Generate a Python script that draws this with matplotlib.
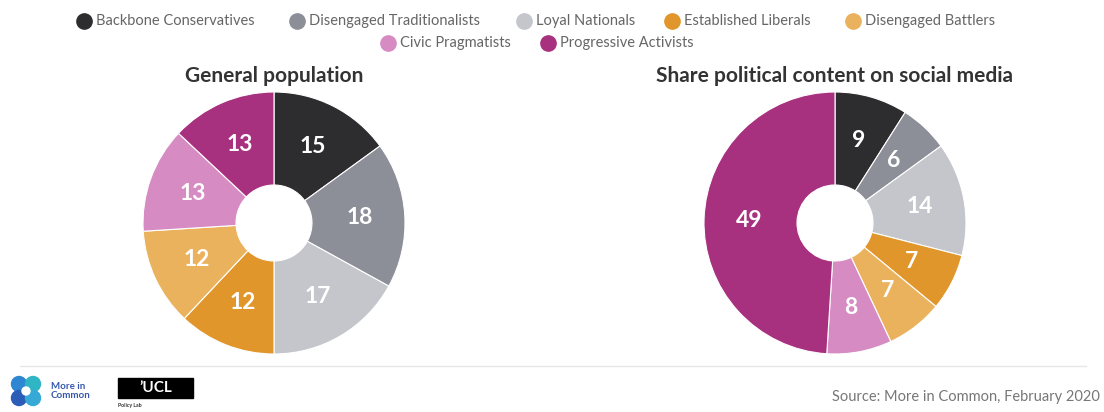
import matplotlib
matplotlib.use("Agg")
import matplotlib.pyplot as plt
import numpy as np
from matplotlib.lines import Line2D
from matplotlib.patches import Rectangle, Ellipse

segments = ["Backbone Conservatives", "Disengaged Traditionalists", "Loyal Nationals",
            "Established Liberals", "Disengaged Battlers", "Civic Pragmatists",
            "Progressive Activists"]
general_population = [15, 18, 17, 12, 12, 13, 13]
share_political = [9, 6, 14, 7, 7, 8, 49]
titles = ["General population", "Share political content on social media"]
colors = ["#2d2d2f", "#8c8e98", "#c4c6cc", "#e0962b", "#ebb25e", "#d68cc3", "#a8317f"]

W, H = 1104, 412
fig = plt.figure(figsize=(W / 100, H / 100), dpi=100)
fig.patch.set_facecolor("white")
FONT = "Lato"

def fx(px):
    return px / W

def fy(py):
    return 1 - py / H

# Legend (manual placement, two rows)
legend_pos = [(84, 21), (297, 21), (524, 21), (672, 21), (853, 21), (388, 43), (548, 43)]
for name, col, (px, py) in zip(segments, colors, legend_pos):
    fig.add_artist(Line2D([fx(px)], [fy(py)], marker="o", markersize=11, color=col,
                          markeredgecolor=col, linestyle="none", transform=fig.transFigure))
    fig.text(fx(px + 12), fy(py), name, fontsize=10.5, color="#666666", family=FONT,
             va="center", ha="left")

# Pies
R = 131
centers = [(274, 223), (835, 223)]
for (cx, cy), vals, title in zip(centers, [general_population, share_political], titles):
    ax = fig.add_axes([fx(cx - R), fy(cy + R), 2 * R / W, 2 * R / H])
    ax.pie(vals, colors=colors, startangle=90, counterclock=False,
           radius=1.0, wedgeprops=dict(width=0.71, edgecolor="white", linewidth=0.8))
    cum = np.cumsum([0] + vals)
    total = sum(vals)
    for i, v in enumerate(vals):
        mid = (cum[i] + v / 2) / total
        ang = np.deg2rad(90 - 360 * mid)
        r = 0.655
        ax.text(r * np.cos(ang), r * np.sin(ang), str(v), color="white", fontsize=16.5,
                fontweight="bold", family=FONT, ha="center", va="center")
    ax.set_xlim(-1, 1)
    ax.set_ylim(-1, 1)
    ax.set_aspect("equal")
    ax.axis("off")
    fig.text(fx(cx), fy(76), title, fontsize=15, fontweight="bold", color="#333333",
             family=FONT, ha="center", va="center")

# Footer line
fig.add_artist(Line2D([fx(20), fx(1086)], [fy(366), fy(366)], color="#e6e6e6", linewidth=1,
                      transform=fig.transFigure))

# More in Common logo (approximation)
for (px, py, c) in [(19, 384, "#2f86d2"), (33, 384, "#2fb5c4"), (19, 398, "#2a5cb8"), (33, 398, "#36a9d6")]:
    fig.add_artist(Ellipse((fx(px), fy(py)), 15 / W, 15 / H, transform=fig.transFigure, color=c))
fig.add_artist(Ellipse((fx(26), fy(391)), 8 / W, 8 / H, transform=fig.transFigure, color="white"))
fig.text(fx(51), fy(391), "More in\nCommon", fontsize=7, color="#3558ad", family=FONT,
         fontweight="bold", va="center", ha="left", linespacing=0.95)

# UCL logo (approximation)
fig.add_artist(Rectangle((fx(118), fy(398)), 75 / W, 20 / H, transform=fig.transFigure,
                         color="black"))
fig.text(fx(156), fy(388.5), "\u2019UCL", fontsize=11, color="white", family=FONT,
         fontweight="bold", va="center", ha="center")
fig.text(fx(118), fy(406), "Policy Lab", fontsize=3.8, color="#333333", family=FONT,
         fontweight="bold", va="center", ha="left")

fig.text(fx(1100), fy(397), "Source: More in Common, February 2020", fontsize=10.5,
         color="#777777", family=FONT, ha="right", va="center")

fig.savefig("out.png", dpi=100, facecolor="white")
